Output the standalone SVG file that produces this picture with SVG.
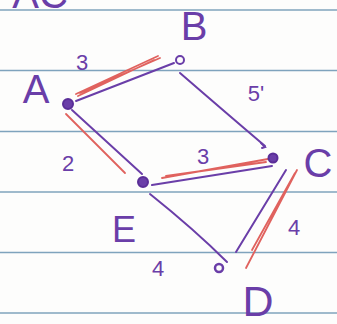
<svg xmlns="http://www.w3.org/2000/svg" width="337" height="324" viewBox="0 0 337 324">
<style>
.rule{stroke:#7fa3bd;stroke-width:1.6}
.e{stroke:#6a3ea8;stroke-width:2;fill:none;stroke-linecap:round}
.r{stroke:#e0625e;stroke-width:1.8;fill:none;stroke-linecap:round}
.lbl{font-family:"Liberation Sans",sans-serif;fill:#6a3ea8;text-anchor:middle}
.w{font-family:"Liberation Sans",sans-serif;fill:#6a3ea8;text-anchor:middle;font-size:22px}
.n{fill:#6a3ea8;stroke:#5a2e98;stroke-width:2}
</style>
<rect width="337" height="324" fill="#fdfdfc"/>
<g id="paper">
<line class="rule" x1="0" y1="10" x2="337" y2="10"/>
<line class="rule" x1="0" y1="70.5" x2="337" y2="70.5"/>
<line class="rule" x1="0" y1="131.5" x2="337" y2="131.5"/>
<line class="rule" x1="0" y1="192" x2="337" y2="192"/>
<line class="rule" x1="0" y1="252.5" x2="337" y2="252.5"/>
<line class="rule" x1="0" y1="313" x2="337" y2="313"/>
<text class="lbl" x="40" y="8" font-size="40">AC</text>
</g>
<g id="connectors">
<path class="r" d="M76 94 L158 56 M80 93 L160 58 M78 96 L154 60"/>
<path class="e" d="M76 101 L174 63"/>
<path class="e" d="M180 73 Q225 112 265 146"/>
<path class="e" d="M261 143 L265 147 L262 148"/>
<path class="r" d="M66 114 L122 170 M68 116 L125 173"/>
<path class="e" d="M72 110 L142 174"/>
<path class="r" d="M162 178 L268 159 M166 176 L266 162"/>
<path class="e" d="M152 185 L272 166"/>
<path class="e" d="M150 194 Q195 230 227 262"/>
<path class="r" d="M297 170 L246 268 M295 173 L252 250"/>
<path class="e" d="M286 170 L236 252" stroke-width="3.2"/>
</g>
<g id="A"><circle class="n" cx="68" cy="104" r="5"/><text class="lbl" x="36" y="103" font-size="40">A</text></g>
<g id="B"><circle cx="180" cy="60" r="4" fill="none" stroke="#6a3ea8" stroke-width="2"/><text class="lbl" x="194" y="40" font-size="40">B</text></g>
<g id="C"><circle class="n" cx="273" cy="158" r="4.5"/><text class="lbl" x="318" y="177" font-size="40">C</text></g>
<g id="E"><circle class="n" cx="143" cy="182" r="5"/><text class="lbl" x="124" y="242" font-size="36">E</text></g>
<g id="D"><circle cx="219" cy="268" r="4" fill="none" stroke="#6a3ea8" stroke-width="2.5"/><text class="lbl" x="258" y="316" font-size="43">D</text></g>
<g id="weights">
<text class="w" x="82" y="70">3</text>
<text class="w" x="256" y="101">5'</text>
<text class="w" x="68" y="171">2</text>
<text class="w" x="203" y="164">3</text>
<text class="w" x="294" y="235">4</text>
<text class="w" x="158" y="276">4</text>
</g>
</svg>
